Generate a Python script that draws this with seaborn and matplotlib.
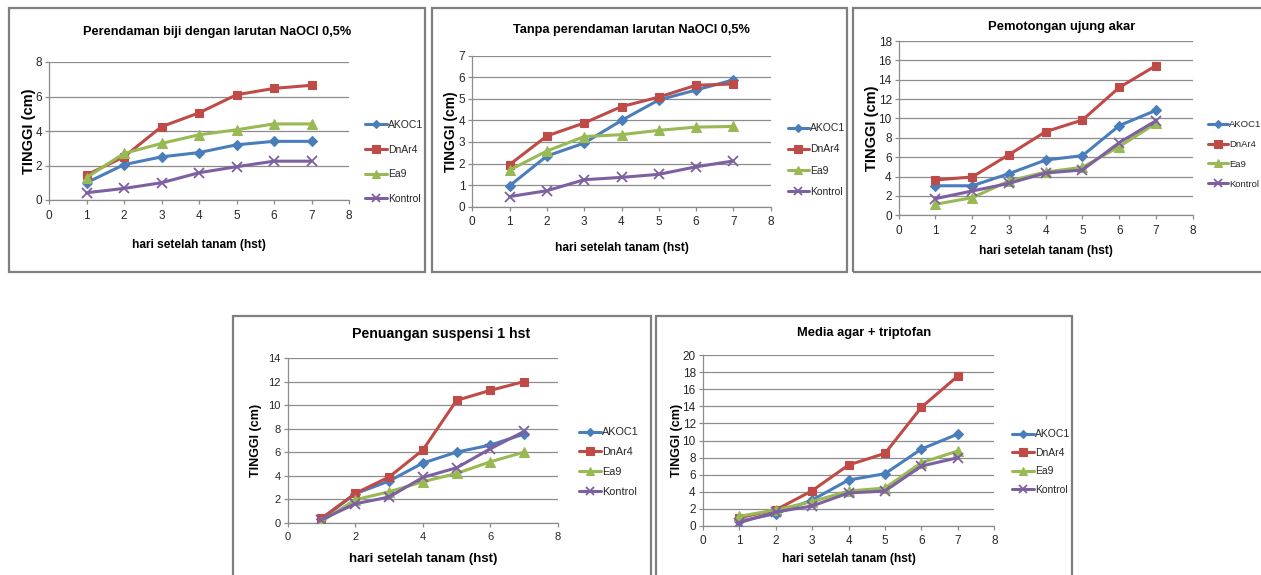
import matplotlib
matplotlib.use("Agg")
import matplotlib.pyplot as plt
import numpy as np
import pandas as pd
import seaborn as sns
from matplotlib.lines import Line2D
from matplotlib.patches import Rectangle

# ---- data: plant height (cm) per day after planting (hst) ----
hst = [1, 2, 3, 4, 5, 6, 7]
series_names = ["AKOC1", "DnAr4", "Ea9", "Kontrol"]

# Perendaman biji dengan larutan NaOCl 0,5%
p1_akoc1 = [1.0, 2.05, 2.5, 2.75, 3.2, 3.4, 3.4]
p1_dnar4 = [1.45, 2.5, 4.25, 5.05, 6.1, 6.47, 6.65]
p1_ea9 = [1.3, 2.7, 3.28, 3.78, 4.07, 4.41, 4.41]
p1_kontrol = [0.42, 0.67, 1.0, 1.58, 1.93, 2.25, 2.25]

# Tanpa perendaman larutan NaOCl 0,5%
p2_akoc1 = [0.97, 2.35, 2.95, 4.0, 4.95, 5.41, 5.88]
p2_dnar4 = [1.95, 3.28, 3.88, 4.64, 5.08, 5.63, 5.69]
p2_ea9 = [1.7, 2.58, 3.25, 3.34, 3.54, 3.69, 3.72]
p2_kontrol = [0.47, 0.74, 1.25, 1.36, 1.5, 1.85, 2.12]

# Pemotongan ujung akar
p3_akoc1 = [3.05, 3.05, 4.3, 5.71, 6.16, 9.26, 10.84]
p3_dnar4 = [3.65, 3.96, 6.26, 8.64, 9.84, 13.2, 15.45]
p3_ea9 = [1.14, 1.82, 3.54, 4.47, 4.96, 7.09, 9.5]
p3_kontrol = [1.72, 2.51, 3.3, 4.37, 4.68, 7.5, 9.77]

# Penuangan suspensi 1 hst
p4_akoc1 = [0.3, 2.46, 3.54, 5.07, 6.0, 6.6, 7.54]
p4_dnar4 = [0.37, 2.49, 3.88, 6.18, 10.4, 11.25, 12.0]
p4_ea9 = [0.1, 1.95, 2.63, 3.48, 4.19, 5.18, 6.0]
p4_kontrol = [0.25, 1.61, 2.18, 3.85, 4.67, 6.29, 7.76]

# Media agar + triptofan
p5_akoc1 = [0.51, 1.41, 3.01, 5.36, 6.1, 9.0, 10.76]
p5_dnar4 = [0.94, 1.84, 4.1, 7.12, 8.49, 13.9, 17.57]
p5_ea9 = [1.1, 1.85, 2.82, 4.07, 4.42, 7.4, 8.77]
p5_kontrol = [0.35, 1.6, 2.31, 3.84, 4.07, 7.0, 7.98]

titles = [
    "Perendaman biji dengan larutan NaOCl 0,5%",
    "Tanpa perendaman larutan NaOCl 0,5%",
    "Pemotongan ujung akar",
    "Penuangan suspensi 1 hst",
    "Media agar + triptofan",
]
x_label = "hari setelah tanam (hst)"
y_label = "TINGGI (cm)"

panels_values = [
    [p1_akoc1, p1_dnar4, p1_ea9, p1_kontrol],
    [p2_akoc1, p2_dnar4, p2_ea9, p2_kontrol],
    [p3_akoc1, p3_dnar4, p3_ea9, p3_kontrol],
    [p4_akoc1, p4_dnar4, p4_ea9, p4_kontrol],
    [p5_akoc1, p5_dnar4, p5_ea9, p5_kontrol],
]

# ---- styling ----
palette = {"AKOC1": "#4A7EBB", "DnAr4": "#BE4B48", "Ea9": "#98B954", "Kontrol": "#7D60A0"}
markers = {"AKOC1": "D", "DnAr4": "s", "Ea9": "^", "Kontrol": "x"}
msizes = {"AKOC1": 4.8, "DnAr4": 6.2, "Ea9": 6.5, "Kontrol": 6.5}
mew = {"AKOC1": 0.8, "DnAr4": 0.8, "Ea9": 0.8, "Kontrol": 1.3}
LW = 2.2

sns.set_theme(style="white")
FONT = ["Liberation Sans", "DejaVu Sans"]
plt.rcParams["font.family"] = FONT

W, H = 1261, 575
fig = plt.figure(figsize=(W / 100, H / 100), dpi=100)
fig.patch.set_facecolor("white")


def fx(px):
    return px / W


def fy(py):
    return 1 - py / H


# panel layout in pixels: frame box, plot area, label anchors, legend, font sizes
layout = [
    dict(frame=(9, 8, 425, 272), area=(49, 62, 349, 200), ymax=8, ystep=2, xstep=1,
         leg=(365, 162, 26.7), title=(216.7, 32), tsize=9.2, xlab_y=245, xsize=8.6,
         ylab_x=29, ysize=10.5, ksize=8.5, gsize=7.5, hlen=2.1),
    dict(frame=(432, 8, 847, 272), area=(472.3, 55.7, 770.7, 206.7), ymax=7, ystep=1, xstep=1,
         leg=(788, 160, 23), title=(631.3, 30), tsize=9.2, xlab_y=248, xsize=8.6,
         ylab_x=451, ysize=10, ksize=8.5, gsize=7.5, hlen=2.0),
    dict(frame=(853, 8, 1275, 272), area=(898.7, 41, 1192.7, 215.3), ymax=18, ystep=2, xstep=1,
         leg=(1208, 154.3, 21.8), title=(1062, 26.7), tsize=9.4, xlab_y=250.7, xsize=8.6,
         ylab_x=872, ysize=10.5, ksize=8.5, gsize=6.8, hlen=2.1),
    dict(frame=(233, 316, 651, 590), area=(287.7, 358, 558, 522.7), ymax=14, ystep=2, xstep=2,
         leg=(579, 462, 22.2), title=(441.5, 334), tsize=10.2, xlab_y=558.7, xsize=9.5,
         ylab_x=255.7, ysize=9, ksize=8, gsize=7.8, hlen=2.0),
    dict(frame=(656, 316, 1072, 590), area=(702.7, 355.3, 994.3, 525.7), ymax=20, ystep=2, xstep=1,
         leg=(1012, 462, 20.5), title=(864, 332.7), tsize=9.3, xlab_y=558.7, xsize=8.6,
         ylab_x=676.7, ysize=9, ksize=8.5, gsize=7.5, hlen=2.1),
]

frame_color = "#7F7F7F"
grid_color = "#8C8C8C"
text_color = "#262626"

for title, values, lay in zip(titles, panels_values, layout):
    # outer chart frame
    x0, y0, x1, y1 = lay["frame"]
    fig.patches.append(Rectangle((fx(x0), fy(y1)), fx(x1 - x0), (y1 - y0) / H,
                                 transform=fig.transFigure, fill=False,
                                 edgecolor=frame_color, linewidth=1.6, zorder=0))

    ax_l, ax_t, ax_r, ax_b = lay["area"]
    ax = fig.add_axes([fx(ax_l), fy(ax_b), fx(ax_r - ax_l), (ax_b - ax_t) / H])
    ax.set_facecolor("none")

    df = pd.DataFrame({
        "hst": hst * len(series_names),
        "tinggi": np.concatenate(values),
        "seri": np.repeat(series_names, len(hst)),
    })
    for name in series_names:
        sub = df[df["seri"] == name]
        sns.lineplot(data=sub, x="hst", y="tinggi", color=palette[name],
                     marker=markers[name], markersize=msizes[name],
                     markeredgecolor=palette[name], markeredgewidth=mew[name],
                     linewidth=LW, ax=ax, legend=False, zorder=3)

    ymax = lay["ymax"]
    ax.set_xlim(0, 8)
    ax.set_ylim(0, ymax)
    ax.set_xticks(np.arange(0, 9, lay["xstep"]))
    ax.set_yticks(np.arange(0, ymax + 0.01, lay["ystep"]))
    ax.yaxis.grid(True, color=grid_color, linewidth=0.9)
    ax.xaxis.grid(False)
    ax.set_axisbelow(True)
    for s in ["top", "right"]:
        ax.spines[s].set_visible(False)
    for s in ["left", "bottom"]:
        ax.spines[s].set_color(grid_color)
        ax.spines[s].set_linewidth(0.9)
    ax.tick_params(axis="both", which="major", direction="out", length=3, width=0.9,
                   color=grid_color, labelsize=lay["ksize"], labelcolor=text_color, pad=2)
    ax.tick_params(left=True, bottom=True)
    ax.tick_params(axis="x", pad=4)

    ax.set_xlabel("")
    ax.set_ylabel("")
    tx, ty = lay["title"]
    fig.text(fx(tx), fy(ty), title, ha="center", va="center", fontsize=lay["tsize"],
             fontweight="bold", color="black")
    fig.text(fx((ax_l + ax_r) / 2), fy(lay["xlab_y"]), x_label, ha="center", va="center",
             fontsize=lay["xsize"], fontweight="bold", color="black")
    fig.text(fx(lay["ylab_x"]), fy((ax_t + ax_b) / 2), y_label, ha="center", va="center",
             rotation=90, fontsize=lay["ysize"], fontweight="bold", color="black")

    # legend to the right of the plot area
    handles = [Line2D([0], [0], color=palette[n], marker=markers[n], markersize=msizes[n] * 0.9,
                      markeredgecolor=palette[n], markeredgewidth=mew[n], linewidth=LW)
               for n in series_names]
    lx, lcy, lsp = lay["leg"]
    gpx = lay["gsize"] * 100 / 72
    leg = ax.legend(handles, series_names, loc="center left",
                    bbox_to_anchor=(fx(lx), fy(lcy)), bbox_transform=fig.transFigure,
                    frameon=False, fontsize=lay["gsize"], handlelength=lay["hlen"],
                    handletextpad=0.15, borderpad=0, borderaxespad=0,
                    labelspacing=(lsp - gpx * 1.15) / gpx)
    for t in leg.get_texts():
        t.set_color(text_color)

fig.savefig("out.png", dpi=100, facecolor="white")
